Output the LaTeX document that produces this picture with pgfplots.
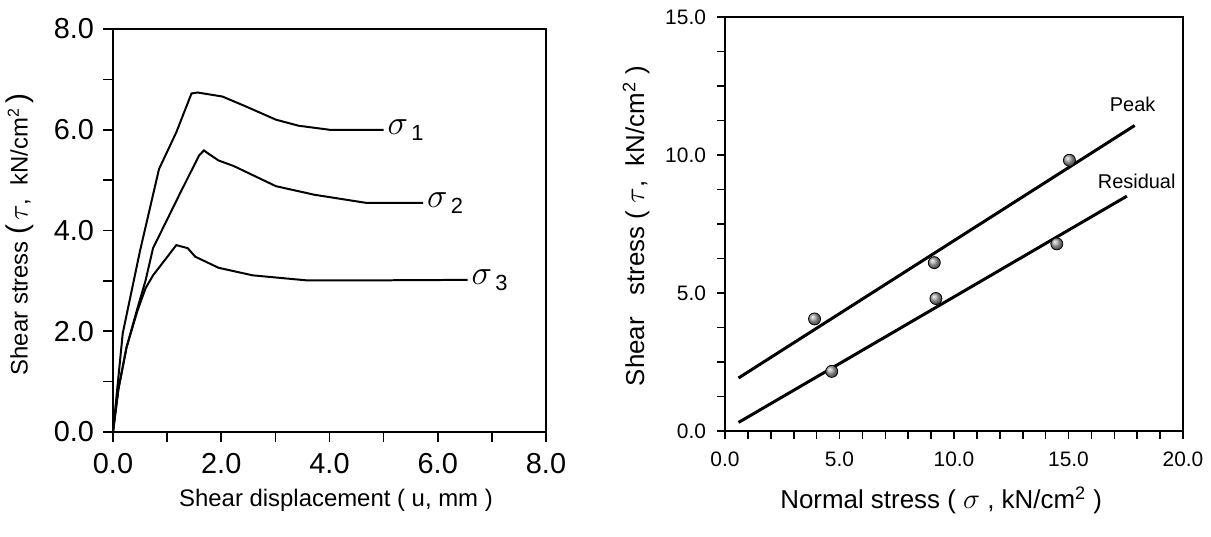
\documentclass[border=0pt]{standalone}
\usepackage{fontspec}
\setmainfont{Liberation Sans}
\usepackage{pgfplots}
\pgfplotsset{compat=1.18}
\begin{document}
\begin{tikzpicture}
\useasboundingbox (0,0) rectangle (605.5bp,268.5bp);
% ---------- left panel ----------
\begin{axis}[
  at={(56.5bp,52.5bp)}, anchor=south west,
  scale only axis, width=216.5bp, height=201.5bp,
  xmin=0, xmax=8, ymin=0, ymax=8,
  xtick={0,2,4,6,8}, ytick={0,2,4,6,8},
  minor x tick num=1, minor y tick num=1,
  xtick pos=left, ytick pos=left, tick align=outside,
  major tick length=5bp, minor tick length=5bp,
  every tick/.style={black, line width=0.8pt},
  axis line style={line width=1pt},
  /pgf/number format/assume math mode=true,
  /pgf/number format/.cd, fixed, fixed zerofill, precision=1, /pgfplots/.cd,
  tick label style={font=\fontsize{14.5}{15}\selectfont},
  xticklabel style={yshift=-2bp},
  yticklabel style={xshift=-1bp},
  xlabel={Shear displacement ( u, mm )},
  ylabel={Shear stress {\fontsize{15}{15}\selectfont(}\,{\fontsize{14}{14}\selectfont$\tau$},\ \ kN/cm\textsuperscript{2}\,{\fontsize{15}{15}\selectfont)}},
  label style={font=\fontsize{12}{12}\selectfont},
  xlabel style={at={(axis description cs:0.515,-0.169)}, anchor=center},
  ylabel style={at={(axis description cs:-0.215,0.49)}, anchor=center},
  clip=false,
]
\addplot[black, line width=1pt] coordinates {(0,0) (0.18,1.96) (0.5,3.6) (0.85,5.22) (1.17,5.95) (1.45,6.72) (1.56,6.74) (2.02,6.66) (2.44,6.47) (3.01,6.2) (3.43,6.08) (4.0,6.0) (5.0,6.0)};
\addplot[black, line width=1pt] coordinates {(0,0) (0.1,0.85) (0.25,1.68) (0.45,2.45) (0.6,3.0) (0.74,3.65) (1.24,4.74) (1.59,5.49) (1.68,5.59) (1.77,5.52) (1.95,5.39) (2.23,5.28) (3.01,4.88) (3.72,4.71) (4.67,4.55) (5.73,4.55)};
\addplot[black, line width=1pt] coordinates {(0,0) (0.1,0.85) (0.25,1.68) (0.45,2.4) (0.6,2.85) (0.74,3.11) (1.17,3.71) (1.38,3.65) (1.52,3.48) (1.95,3.26) (2.58,3.11) (3.58,3.01) (4.71,3.01) (6.55,3.02)};
\node[anchor=west, inner sep=1bp] at (axis cs:5.03,6.0) {{\fontsize{19}{19}\selectfont$\sigma$}\,{\fontsize{11}{11}\selectfont\raisebox{-3bp}{1}}};
\node[anchor=west, inner sep=1bp] at (axis cs:5.76,4.55) {{\fontsize{19}{19}\selectfont$\sigma$}\,{\fontsize{11}{11}\selectfont\raisebox{-3bp}{2}}};
\node[anchor=west, inner sep=1bp] at (axis cs:6.58,3.02) {{\fontsize{19}{19}\selectfont$\sigma$}\,{\fontsize{11}{11}\selectfont\raisebox{-3bp}{3}}};
\end{axis}
% ---------- right panel ----------
\begin{axis}[
  at={(362.5bp,53bp)}, anchor=south west,
  scale only axis, width=229bp, height=207bp,
  xmin=0, xmax=20, ymin=0, ymax=15,
  xtick={0,5,10,15,20}, ytick={0,5,10,15},
  minor x tick num=4, minor y tick num=3,
  xtick pos=left, ytick pos=left, tick align=outside,
  major tick length=4bp, minor tick length=4bp,
  every tick/.style={black, line width=0.8pt},
  axis line style={line width=1pt},
  /pgf/number format/assume math mode=true,
  /pgf/number format/.cd, fixed, fixed zerofill, precision=1, /pgfplots/.cd,
  tick label style={font=\fontsize{10.5}{11}\selectfont},
  xticklabel style={yshift=-3bp},
  yticklabel style={xshift=-2bp},
  xlabel={Normal stress ( {\fontsize{15}{15}\selectfont$\sigma$} , kN/cm\textsuperscript{2} )},
  ylabel={Shear \ \ stress ( {\fontsize{14}{14}\selectfont$\tau$}, \ kN/cm\textsuperscript{2} )},
  label style={font=\fontsize{13}{13}\selectfont},
  xlabel style={at={(axis description cs:0.472,-0.167)}, anchor=center},
  ylabel style={at={(axis description cs:-0.194,0.495)}, anchor=center},
  clip=false,
]
\addplot[black, line width=1.5pt] coordinates {(0.59,1.92) (17.89,11.07)};
\addplot[black, line width=1.5pt] coordinates {(0.59,0.31) (17.55,8.51)};
\addplot[only marks, mark=ball, mark size=3bp, mark options={ball color=gray!70}] coordinates {(3.91,4.06) (4.66,2.16) (9.14,6.10) (9.21,4.80) (15.04,9.81) (14.49,6.78)};
\node[font=\fontsize{10}{10}\selectfont] at (axis cs:17.8,11.85) {Peak};
\node[font=\fontsize{10}{10}\selectfont] at (axis cs:17.98,9.03) {Residual};
\end{axis}
\end{tikzpicture}
\end{document}
